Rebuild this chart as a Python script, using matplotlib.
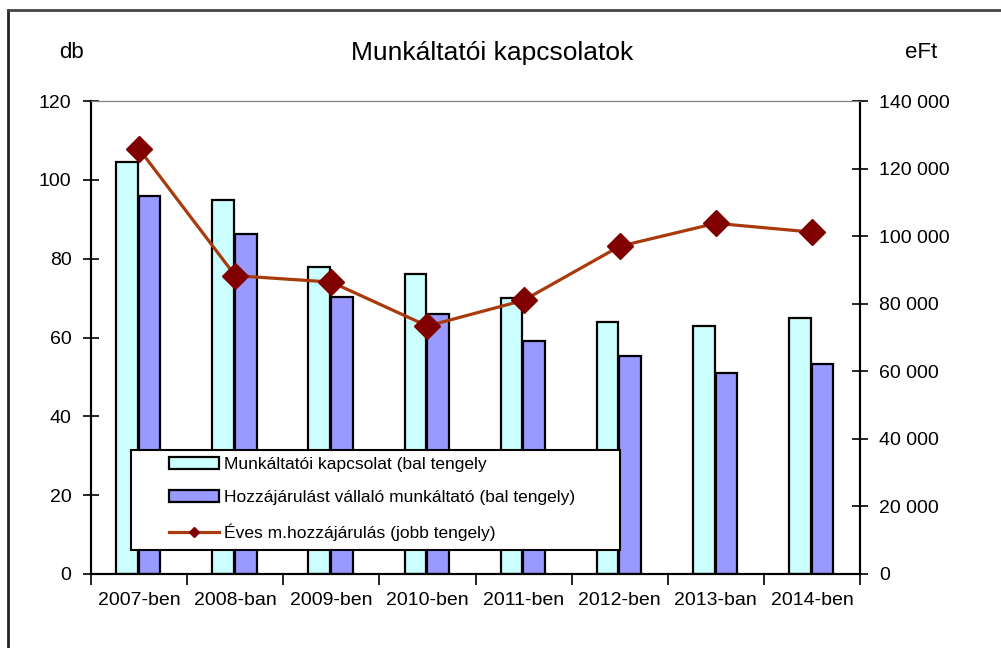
import matplotlib
matplotlib.use('Agg')
import matplotlib.pyplot as plt
import numpy as np
from matplotlib.lines import Line2D
from matplotlib.patches import Rectangle
from matplotlib.ticker import FuncFormatter

plt.rcParams['font.family'] = ['Liberation Sans', 'DejaVu Sans']

# Data
years = ['2007-ben', '2008-ban', '2009-ben', '2010-ben',
         '2011-ben', '2012-ben', '2013-ban', '2014-ben']
kapcsolat = [104.5, 95, 78, 76, 70, 64, 63, 65]
vallalo = [96, 86.3, 70.2, 66, 59, 55.2, 51, 53.2]
hozzajarulas = [125800, 88300, 86400, 73400, 81000, 97000, 103800, 101200]

fig = plt.figure(figsize=(10.01, 6.48), dpi=100)
ax = fig.add_axes([91/1001, 1 - 574/648, (860 - 91)/1001, (574 - 101)/648])
ax2 = ax.twinx()

x = np.arange(len(years))
w = 0.225
ax.bar(x - 0.125, kapcsolat, w, color='#CCFFFF', edgecolor='black', linewidth=1.6,
       label='Munkáltatói kapcsolat (bal tengely', zorder=2)
ax.bar(x + 0.11, vallalo, w, color='#9999FF', edgecolor='black', linewidth=1.6,
       label='Hozzájárulást vállaló munkáltató (bal tengely)', zorder=2)

ax2.plot(x, hozzajarulas, color='#A83A0C', linewidth=2.3, marker='D',
         markersize=13, markerfacecolor='#800000', markeredgecolor='#800000',
         label='Éves m.hozzájárulás (jobb tengely)')

ax.set_xlim(-0.5, len(years) - 0.5)
ax.set_ylim(0, 120)
ax.set_yticks(np.arange(0, 121, 20))
ax2.set_ylim(0, 140000)
ax2.set_yticks(np.arange(0, 140001, 20000))
ax2.yaxis.set_major_formatter(FuncFormatter(lambda v, p: f'{int(v):,}'.replace(',', ' ')))

# category ticks between groups, labels in the middle
ax.set_xticks(np.arange(-0.5, len(years), 1))
ax.set_xticklabels([])
ax.set_xticks(x, minor=True)
ax.set_xticklabels(years, minor=True, fontsize=14)
ax.tick_params(axis='x', which='major', direction='out', length=8, width=1.2)
ax.tick_params(axis='x', which='minor', length=0, pad=13)
ax.tick_params(axis='y', direction='inout', length=12, width=1.2, labelsize=14, pad=8)
ax2.tick_params(axis='y', direction='inout', length=12, width=1.2, labelsize=14, pad=8)

for a in (ax, ax2):
    a.spines['left'].set_linewidth(1.5)
    a.spines['right'].set_linewidth(1.5)
    a.spines['bottom'].set_linewidth(1.5)
    a.spines['top'].set_linewidth(0.8)
    a.spines['top'].set_color('#808080')

# legend: frame drawn separately, entries indented as in the original
box = Rectangle(((131 - 91)/769, (574 - 550)/473), (620 - 131)/769, (550 - 450)/473,
                transform=ax2.transAxes, facecolor='white', edgecolor='black',
                linewidth=1.5, zorder=4)
ax2.add_patch(box)

h1, l1 = ax.get_legend_handles_labels()
h2, l2 = ax2.get_legend_handles_labels()
line_h = Line2D([], [], color='#A83A0C', linewidth=2.3, marker='D', markersize=5,
                markerfacecolor='#800000', markeredgecolor='#800000')
leg = ax2.legend(h1 + [line_h], l1 + l2, loc='center left',
                 bbox_to_anchor=((169 - 91)/769, (574 - 499)/473),
                 fontsize=12.5, frameon=False, borderaxespad=0, borderpad=0,
                 handlelength=2.9, handleheight=0.65, handletextpad=0.25,
                 labelspacing=1.05)
leg.set_zorder(5)

fig.text(492/1001, 1 - 53/648, 'Munkáltatói kapcsolatok', ha='center', va='center', fontsize=19)
fig.text(72/1001, 1 - 53/648, 'db', ha='center', va='center', fontsize=16)
fig.text(921/1001, 1 - 53/648, 'eFt', ha='center', va='center', fontsize=16)

# outer chart frame
fig.add_artist(Line2D([8/1001, 8/1001], [0, 1 - 10/648], transform=fig.transFigure,
                     color='#222222', linewidth=2))
fig.add_artist(Line2D([8/1001, 1], [1 - 10/648, 1 - 10/648], transform=fig.transFigure,
                     color='#444444', linewidth=2))

fig.savefig('out.png', dpi=100)
